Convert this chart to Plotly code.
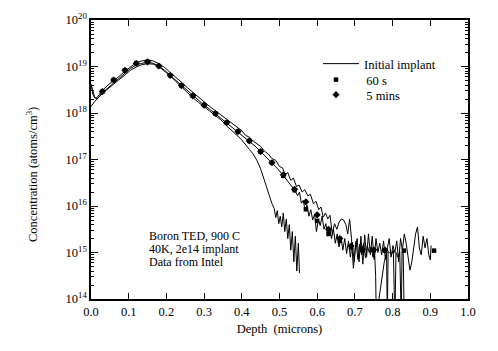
import plotly.graph_objects as go

# ---------------- data (depth in microns, log10 concentration) ----------------
init_depth = [0.000, 0.010, 0.020, 0.030, 0.045, 0.060, 0.075, 0.090, 0.105, 0.120,
              0.135, 0.150, 0.165, 0.180, 0.195, 0.210, 0.225, 0.240, 0.255, 0.270,
              0.285, 0.300, 0.315, 0.330, 0.345, 0.360, 0.375, 0.390, 0.400, 0.410,
              0.420, 0.430, 0.440, 0.450, 0.458, 0.466, 0.474, 0.480, 0.486, 0.490,
              0.494, 0.498, 0.502, 0.506, 0.510, 0.514, 0.518, 0.522, 0.526, 0.530,
              0.534, 0.538, 0.542, 0.546, 0.550, 0.553]
init_log = [18.14, 18.25, 18.33, 18.42, 18.52, 18.62, 18.72, 18.82, 18.92, 18.99,
            19.04, 19.06, 19.05, 19.00, 18.91, 18.80, 18.68, 18.56, 18.44, 18.33,
            18.23, 18.14, 18.05, 17.96, 17.85, 17.72, 17.62, 17.50, 17.42, 17.33,
            17.22, 17.12, 16.98, 16.80, 16.60, 16.38, 16.22, 16.05, 15.95, 15.75,
            15.90, 15.62, 15.78, 15.55, 15.85, 15.45, 15.72, 15.30, 15.60, 15.05,
            15.45, 14.80, 15.35, 14.60, 15.20, 14.56]

s60_depth = [0.000, 0.005, 0.010, 0.016, 0.024, 0.032, 0.045, 0.060, 0.075, 0.090,
             0.105, 0.120, 0.135, 0.150, 0.165, 0.180, 0.195, 0.210, 0.225, 0.240,
             0.255, 0.270, 0.285, 0.300, 0.315, 0.330, 0.345, 0.360, 0.375, 0.390,
             0.405, 0.420, 0.435, 0.450, 0.465, 0.480, 0.495, 0.510, 0.520, 0.530,
             0.540, 0.548, 0.553, 0.558, 0.563, 0.568, 0.573, 0.578, 0.583, 0.588,
             0.593, 0.598, 0.603, 0.608, 0.613, 0.618, 0.623, 0.628, 0.633, 0.638,
             0.643, 0.648, 0.653, 0.658, 0.663, 0.668, 0.673, 0.678, 0.683, 0.688,
             0.693, 0.698, 0.703, 0.708, 0.713, 0.718, 0.723, 0.728, 0.733, 0.738,
             0.743, 0.748, 0.752, 0.755, 0.757, 0.762, 0.770, 0.778, 0.784, 0.786,
             0.788, 0.792, 0.797, 0.802, 0.806, 0.809, 0.814, 0.819, 0.823, 0.825,
             0.828, 0.831]
s60_log = [18.62, 18.45, 18.33, 18.30, 18.38, 18.45, 18.54, 18.64, 18.75, 18.86,
           18.96, 19.03, 19.07, 19.09, 19.07, 19.01, 18.92, 18.81, 18.70, 18.59,
           18.48, 18.37, 18.27, 18.17, 18.08, 17.98, 17.89, 17.79, 17.70, 17.60,
           17.50, 17.40, 17.29, 17.17, 17.05, 16.93, 16.80, 16.66, 16.55, 16.45,
           16.34, 16.22, 16.30, 16.06, 16.12, 15.90, 16.02, 15.78, 15.92, 15.70,
           15.82, 15.45, 15.70, 15.58, 15.78, 15.50, 15.62, 15.35, 15.55, 15.30,
           15.50, 15.20, 15.40, 15.12, 15.35, 15.05, 15.30, 14.98, 15.25, 14.90,
           15.22, 14.80, 15.25, 14.85, 15.18, 14.95, 15.20, 14.88, 15.15, 15.00,
           15.12, 14.90, 15.05, 14.50, 13.50, 13.90, 14.40, 14.80, 15.00, 13.50,
           15.02, 15.00, 14.95, 15.05, 13.50, 15.00, 14.90, 15.02, 13.50, 15.00,
           15.05, 13.50]

m5_depth = [0.000, 0.005, 0.010, 0.016, 0.024, 0.032, 0.045, 0.060, 0.075, 0.090,
            0.105, 0.120, 0.135, 0.150, 0.165, 0.180, 0.195, 0.210, 0.225, 0.240,
            0.255, 0.270, 0.285, 0.300, 0.315, 0.330, 0.345, 0.360, 0.375, 0.390,
            0.400, 0.410, 0.420, 0.430, 0.440, 0.450, 0.460, 0.470, 0.480, 0.490,
            0.500, 0.508, 0.515, 0.522, 0.530, 0.537, 0.545, 0.552, 0.560, 0.567,
            0.575, 0.582, 0.590, 0.597, 0.604, 0.610, 0.616, 0.622, 0.628, 0.634,
            0.640, 0.646, 0.652, 0.658, 0.664, 0.670, 0.676, 0.681, 0.686, 0.691,
            0.696, 0.701, 0.706, 0.711, 0.716, 0.721, 0.726, 0.731, 0.736, 0.741,
            0.746, 0.751, 0.756, 0.761, 0.766, 0.771, 0.776, 0.781, 0.786, 0.791,
            0.796, 0.801, 0.806, 0.811, 0.816, 0.821, 0.826, 0.831, 0.836, 0.841,
            0.846, 0.851, 0.856, 0.861, 0.866, 0.871, 0.876, 0.881, 0.886, 0.891,
            0.896, 0.900, 0.902]
m5_log = [18.62, 18.40, 18.32, 18.33, 18.42, 18.50, 18.60, 18.69, 18.79, 18.90,
          19.00, 19.08, 19.12, 19.14, 19.12, 19.06, 18.98, 18.88, 18.77, 18.66,
          18.55, 18.44, 18.34, 18.24, 18.14, 18.05, 17.96, 17.87, 17.78, 17.68,
          17.62, 17.52, 17.48, 17.40, 17.33, 17.28, 17.18, 17.12, 17.02, 16.98,
          16.85, 16.82, 16.68, 16.72, 16.55, 16.60, 16.42, 16.45, 16.30, 16.35,
          16.22, 16.25, 16.05, 16.10, 15.92, 15.98, 15.76, 15.85, 15.72, 15.80,
          15.40, 15.62, 15.50, 15.65, 15.72, 15.70, 15.60, 15.40, 15.72, 15.30,
          14.66, 15.10, 15.30, 14.80, 15.35, 14.75, 15.38, 14.90, 15.40, 14.95,
          15.35, 14.85, 15.30, 15.00, 15.20, 14.95, 15.25, 14.85, 15.10, 15.30,
          14.90, 15.15, 15.00, 15.25, 14.80, 15.30, 15.05, 15.40, 15.20, 14.90,
          14.62, 14.80, 15.10, 15.40, 15.55, 15.10, 14.95, 15.35, 15.10, 15.30,
          14.95, 14.84, 15.15]

sq_depth = [0.03, 0.06, 0.09, 0.12, 0.15, 0.18, 0.21, 0.24, 0.27, 0.30, 0.33, 0.36,
            0.39, 0.42, 0.45, 0.48, 0.51, 0.54, 0.57, 0.60, 0.63, 0.66, 0.69, 0.72,
            0.75, 0.78, 0.83, 0.91]
sq_log = [18.46, 18.71, 18.92, 19.07, 19.10, 19.01, 18.81, 18.59, 18.37, 18.17, 17.99, 17.79,
          17.60, 17.40, 17.17, 16.93, 16.65, 16.34, 15.93, 15.68, 15.40, 15.25, 15.11, 15.05,
          15.05, 15.04, 15.04, 15.04]

dm_depth = [0.03, 0.06, 0.09, 0.12, 0.15, 0.18, 0.21, 0.24, 0.27, 0.30, 0.33, 0.36,
            0.39, 0.42, 0.45, 0.48, 0.51, 0.54, 0.57, 0.60, 0.63, 0.66, 0.69, 0.72,
            0.75, 0.78]
dm_log = [18.46, 18.71, 18.92, 19.07, 19.10, 19.01, 18.81, 18.59, 18.37, 18.17, 17.99, 17.79,
          17.60, 17.40, 17.17, 16.93, 16.67, 16.36, 16.09, 15.81, 15.50, 15.30, 15.14, 15.07,
          15.06, 15.05]

y_decades = [14, 15, 16, 17, 18, 19, 20]
x_ticks = [0.0, 0.1, 0.2, 0.3, 0.4, 0.5, 0.6, 0.7, 0.8, 0.9, 1.0]
note_lines = ["Boron TED, 900 C", "40K, 2e14 implant", "Data from Intel"]

# ---------------- figure ----------------
def lin(v):
    return [10.0 ** e for e in v]

FONT = "Liberation Serif, Times New Roman, serif"
NB = "\u00a0"
fig = go.Figure()
fig.add_trace(go.Scatter(x=init_depth, y=lin(init_log), mode="lines", name="Initial implant",
                         legend="legend", line=dict(color="black", width=1)))
fig.add_trace(go.Scatter(x=s60_depth, y=lin(s60_log), mode="lines", showlegend=False,
                         line=dict(color="black", width=1)))
fig.add_trace(go.Scatter(x=m5_depth, y=lin(m5_log), mode="lines", showlegend=False,
                         line=dict(color="black", width=1)))
fig.add_trace(go.Scatter(x=sq_depth, y=lin(sq_log), mode="markers", name=NB * 2 + "60 s",
                         legend="legend2",
                         marker=dict(symbol="square", size=4.5, color="black")))
fig.add_trace(go.Scatter(x=dm_depth, y=lin(dm_log), mode="markers", name=NB * 2 + "5 mins",
                         legend="legend3",
                         marker=dict(symbol="diamond", size=5.5, color="black")))

minor_vals = [float(m) * 10.0 ** d for d in y_decades[:-1] for m in range(2, 10)]

def leg(xleft, ytop, iw):
    return dict(x=(xleft - 91) / 377.0, y=(299 - ytop) / 279.0, xanchor="left", yanchor="top",
                bgcolor="rgba(0,0,0,0)", font=dict(family=FONT, size=12.5, color="black"),
                itemwidth=iw)

ann = []
for i, t in enumerate(note_lines):
    ypix = 236 + 13 * i
    ann.append(dict(x=(147 - 91) / 377.0, y=(299 - ypix) / 279.0, xref="paper", yref="paper",
                    xanchor="left", yanchor="middle", align="left", showarrow=False,
                    text=t, font=dict(family=FONT, size=12, color="black")))
ann.append(dict(x=(32 - 91) / 377.0, y=(299 - 175) / 279.0, xref="paper", yref="paper",
                xanchor="center", yanchor="middle", showarrow=False, textangle=-90,
                text="Concentration (atoms/cm<sup>3</sup>)",
                font=dict(family=FONT, size=12.5, color="black")))

fig.update_layout(
    width=498, height=351,
    margin=dict(l=91, r=30, t=20, b=52),
    paper_bgcolor="white", plot_bgcolor="white",
    font=dict(family=FONT, size=12, color="black"),
    showlegend=True,
    legend=leg(318, 49, 36),
    legend2=leg(312, 65, 38),
    legend3=leg(312, 80, 38),
    annotations=ann,
)
fig.update_xaxes(range=[0, 1.0], tickvals=x_ticks, ticktext=[f"{v:.1f}" for v in x_ticks],
                 ticks="inside", ticklen=6, tickwidth=1.2, tickcolor="black",
                 showline=True, linecolor="black", linewidth=1.5, mirror="ticks",
                 showgrid=False, zeroline=False,
                 title=dict(text="Depth  (microns)", font=dict(family=FONT, size=12.5, color="black"),
                            standoff=6),
                 tickfont=dict(family=FONT, size=12.5, color="black"))
fig.update_yaxes(type="log", range=[14, 20],
                 tickvals=[10.0 ** d for d in y_decades],
                 ticktext=[f"10<sup>{d}</sup>" for d in y_decades],
                 ticks="inside", ticklen=7, tickwidth=1.2, tickcolor="black",
                 minor=dict(tickvals=minor_vals, ticks="inside", ticklen=3, tickcolor="black",
                            tickwidth=1),
                 showline=True, linecolor="black", linewidth=1.5, mirror="ticks",
                 showgrid=False, zeroline=False,
                 tickfont=dict(family=FONT, size=12.5, color="black"))

fig.write_html("out.html")
